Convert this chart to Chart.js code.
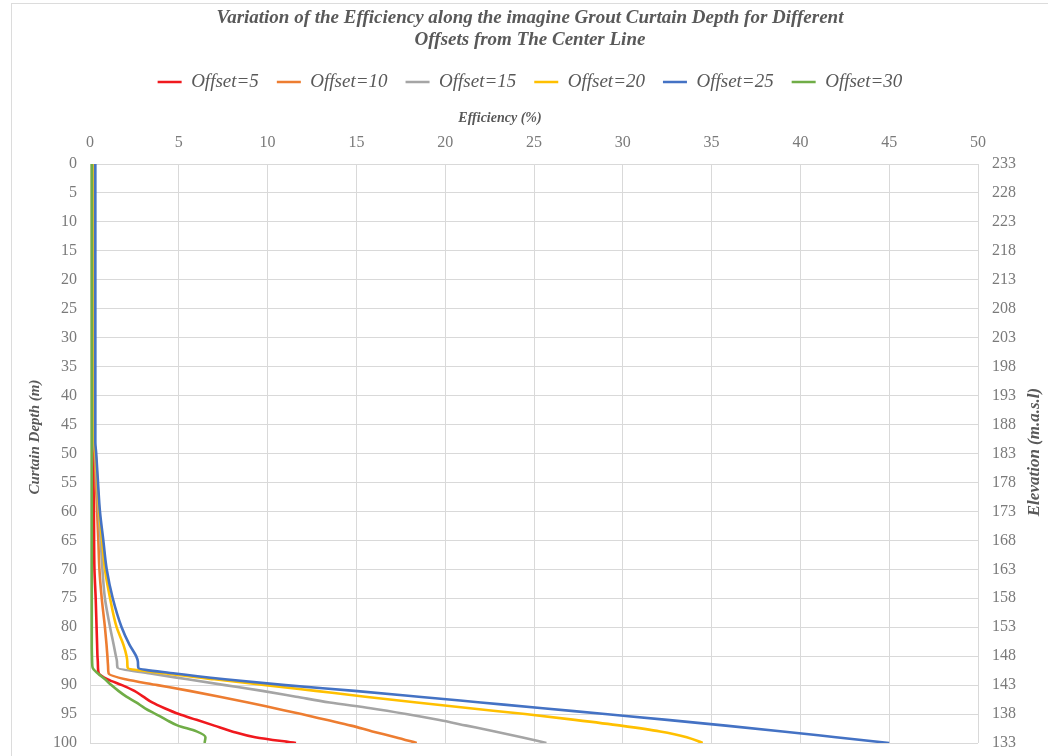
<!DOCTYPE html>
<html>
<head>
<meta charset="utf-8">
<title>Grout curtain efficiency</title>
<script src="https://cdn.jsdelivr.net/npm/chart.js@4/dist/chart.umd.min.js"></script>
<style>
  html, body { margin: 0; padding: 0; background: #ffffff; }
  #wrap { width: 1048px; height: 756px; }
</style>
</head>
<body>
<div id="wrap"><canvas id="chart" width="1048" height="756"></canvas></div>
<script>
// Curtain depth (m) at which each efficiency reading is taken
const depthM = [0, 5, 10, 15, 20, 25, 30, 35, 40, 45, 48, 50, 55, 60, 65, 70, 75, 80, 83, 85, 86, 87,
                88, 89, 90, 91, 92, 93, 94, 95, 96, 97, 98, 99, 100];

// Efficiency (%) per offset from the center line, one value per depth above
const offset5  = [0.2, 0.2, 0.2, 0.2, 0.2, 0.2, 0.2, 0.2, 0.2, 0.2, 0.2, 0.2, 0.2, 0.22, 0.23, 0.25, 0.32, 0.37, 0.4, 0.42, 0.44, 0.45,
                  0.5, 1.0, 1.8, 2.5, 3.0, 3.5, 4.2, 5.0, 6.0, 7.0, 8.0, 9.3, 11.6];
const offset10 = [0.22, 0.22, 0.22, 0.22, 0.22, 0.22, 0.22, 0.22, 0.22, 0.22, 0.22, 0.26, 0.33, 0.4, 0.47, 0.53, 0.66, 0.84, 0.93, 0.98, 1.0, 1.02,
                  1.05, 2.0, 3.8, 5.6, 7.3, 8.9, 10.4, 11.9, 13.3, 14.7, 15.9, 17.2, 18.4];
const offset15 = [0.24, 0.24, 0.24, 0.24, 0.24, 0.24, 0.24, 0.24, 0.24, 0.24, 0.24, 0.3, 0.38, 0.48, 0.6, 0.7, 0.84, 1.13, 1.33, 1.46, 1.52, 1.55,
                  3.4, 5.5, 7.6, 9.7, 11.6, 13.5, 15.8, 17.8, 19.6, 21.2, 22.8, 24.3, 25.7];
const offset20 = [0.26, 0.26, 0.26, 0.26, 0.26, 0.26, 0.26, 0.26, 0.26, 0.26, 0.26, 0.32, 0.42, 0.52, 0.68, 0.84, 1.13, 1.5, 1.88, 2.06, 2.1, 2.12,
                  4.3, 7.0, 9.9, 12.7, 15.5, 18.4, 21.4, 24.5, 27.3, 29.9, 32.1, 33.6, 34.5];
const offset25 = [0.3, 0.3, 0.3, 0.3, 0.3, 0.3, 0.3, 0.3, 0.3, 0.3, 0.3, 0.35, 0.45, 0.56, 0.75, 0.94, 1.28, 1.78, 2.22, 2.6, 2.7, 2.72,
                  4.8, 7.6, 11.0, 14.9, 18.5, 22.0, 25.5, 29.0, 32.5, 35.8, 39.0, 42.0, 45.0];
const offset30 = [0.1, 0.1, 0.1, 0.1, 0.1, 0.1, 0.1, 0.1, 0.1, 0.1, 0.1, 0.1, 0.1, 0.1, 0.1, 0.1, 0.1, 0.1, 0.1, 0.11, 0.12, 0.15,
                  0.45, 0.85, 1.2, 1.6, 2.05, 2.6, 3.1, 3.7, 4.3, 4.95, 6.0, 6.5, 6.45];

const seriesNames  = ['Offset=5', 'Offset=10', 'Offset=15', 'Offset=20', 'Offset=25', 'Offset=30'];
const seriesValues = [offset5, offset10, offset15, offset20, offset25, offset30];
const seriesColors = ['#f0191e', '#ed7d31', '#a5a5a5', '#ffc000', '#4472c4', '#70ad47'];

// Axis ranges and labels
const efficiencyRange = [0, 50];
const depthRange = [0, 100];
const crestElevation = 233;   // elevation (m.a.s.l) at depth 0
const chartTitle = ['Variation of the Efficiency along the imagine Grout Curtain Depth for Different',
                    'Offsets from The Center Line'];
const xAxisTitle = 'Efficiency (%)';
const leftAxisTitle = 'Curtain Depth (m)';
const rightAxisTitle = 'Elevation (m.a.s.l)';

const SERIF = "'Liberation Serif', 'Times New Roman', serif";
const GRID = '#d9d9d9';
const TEXT = '#595959';
const TICK = '#7a7a7a';

const datasets = seriesNames.map((name, i) => ({
  label: name,
  data: depthM.map((d, k) => ({ x: seriesValues[i][k], y: d })),
  borderColor: seriesColors[i],
  backgroundColor: seriesColors[i],
  borderWidth: 2.6,
  pointRadius: 0,
  cubicInterpolationMode: 'monotone',
  order: seriesNames.length - i   // later series drawn on top
}));

// Draws a caption rotated to read bottom-to-top
function verticalCaption(ctx, text, x, y, size) {
  ctx.save();
  ctx.fillStyle = TEXT;
  ctx.font = "italic bold " + size + "px " + SERIF;
  ctx.textAlign = 'center';
  ctx.textBaseline = 'middle';
  ctx.translate(x, y);
  ctx.rotate(-Math.PI / 2);
  ctx.fillText(text, 0, 0);
  ctx.restore();
}

// Frame around the chart area and the hand-placed axis captions
const decorations = {
  id: 'decorations',
  beforeDraw(chart) {
    const ctx = chart.ctx;
    ctx.save();
    ctx.strokeStyle = '#dcdcdc';
    ctx.lineWidth = 1;
    ctx.strokeRect(11.5, 3.5, 1040, 770);
    ctx.restore();
  },
  afterDraw(chart) {
    const ctx = chart.ctx;
    ctx.save();
    ctx.fillStyle = TEXT;
    ctx.font = "italic bold 14px " + SERIF;
    ctx.textAlign = 'center';
    ctx.textBaseline = 'middle';
    ctx.fillText(xAxisTitle, 500, 118);
    ctx.restore();

    verticalCaption(ctx, leftAxisTitle, 35, 437, 15);
    verticalCaption(ctx, rightAxisTitle, 1035, 452, 17);
  }
};

const tickFont = { family: SERIF, size: 16 };

new Chart(document.getElementById('chart'), {
  type: 'line',
  data: { datasets },
  plugins: [decorations],
  options: {
    responsive: false,
    animation: false,
    devicePixelRatio: 1,
    indexAxis: 'y',
    layout: { padding: { left: 12, right: 0, top: 0, bottom: 13 } },
    plugins: {
      title: {
        display: true,
        text: chartTitle,
        color: TEXT,
        font: { family: SERIF, size: 19, style: 'italic', weight: 'bold', lineHeight: 22 / 19 },
        padding: { top: 7, bottom: 3.5 }
      },
      legend: {
        display: true,
        position: 'top',
        labels: {
          color: TEXT,
          font: { family: SERIF, size: 19, style: 'italic' },
          usePointStyle: true,
          pointStyle: 'line',
          pointStyleWidth: 24,
          padding: 18,
          sort: (a, b) => a.datasetIndex - b.datasetIndex
        }
      },
      tooltip: { enabled: false }
    },
    scales: {
      x: {
        type: 'linear',
        position: 'top',
        min: efficiencyRange[0],
        max: efficiencyRange[1],
        ticks: { stepSize: 5, color: TICK, padding: 12, font: tickFont },
        grid: { color: GRID, drawTicks: false },
        border: { display: true, color: GRID },
        afterFit(scale) { scale.height = 62.5; }
      },
      y: {
        type: 'linear',
        position: 'left',
        reverse: true,
        min: depthRange[0],
        max: depthRange[1],
        ticks: { stepSize: 5, color: TICK, padding: 13, font: tickFont },
        grid: { color: GRID, drawTicks: false },
        border: { display: true, color: GRID },
        afterFit(scale) { scale.width = 78; scale.paddingTop = 0; scale.paddingBottom = 0; }
      },
      yElevation: {
        type: 'linear',
        axis: 'y',
        position: 'right',
        reverse: true,
        min: depthRange[0],
        max: depthRange[1],
        ticks: {
          stepSize: 5, color: TICK, padding: 14, font: tickFont,
          callback: (v) => String(crestElevation - v)
        },
        grid: { display: false, drawTicks: false },
        border: { display: false },
        afterFit(scale) { scale.width = 70; scale.paddingTop = 0; scale.paddingBottom = 0; }
      }
    }
  }
});
</script>
</body>
</html>
